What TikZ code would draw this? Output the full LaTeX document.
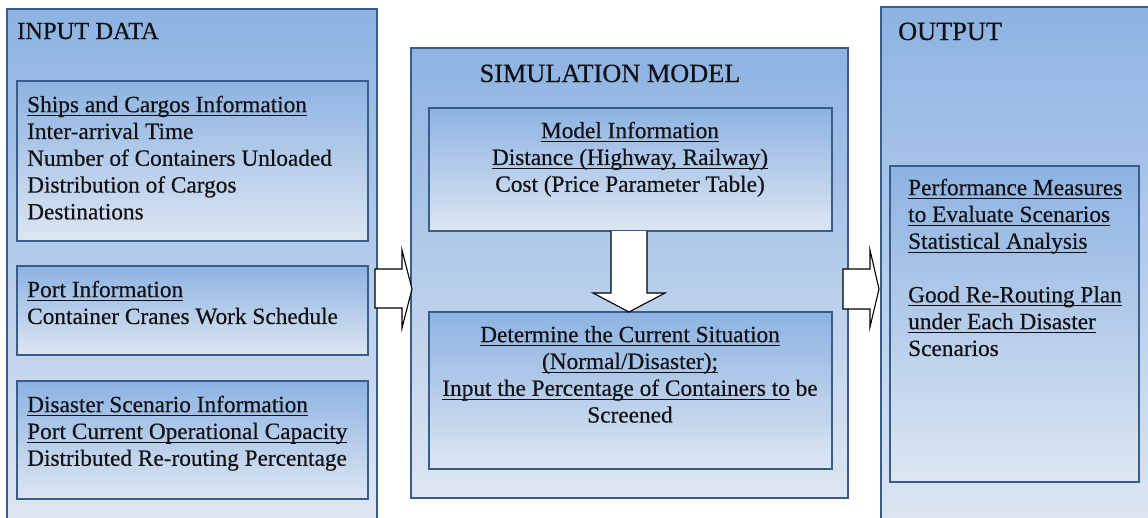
\documentclass[tikz,border=0pt]{standalone}
\usepackage{fontspec}
\setmainfont{Liberation Serif}[FakeBold=0.5]
\usetikzlibrary{calc}

\definecolor{edge}{RGB}{56,93,138}
\definecolor{shadetop}{RGB}{141,179,226}
\definecolor{shadebot}{RGB}{221,230,242}
\definecolor{ink}{RGB}{18,18,22}

% underline drawn at a fixed depth below the baseline
\newcommand\uln[1]{\setbox0=\hbox{#1}\rlap{\rule[-3.8pt]{\wd0}{1pt}}\copy0\relax}
\newcommand\bodysize{\fontsize{23.3}{26.8}\selectfont}
\newcommand\headsize{\fontsize{24.5}{28}\selectfont}
\newcommand\bigheadsize{\fontsize{26.3}{30}\selectfont}

\begin{document}
\begin{tikzpicture}[x=1pt,y=-1pt,
  panel/.style={draw=edge, line width=1.5pt, top color=shadetop, bottom color=shadebot,
    anchor=north west, inner sep=0pt, outer sep=0pt},
  heading/.style={font=\headsize, text=ink, inner sep=0pt, anchor=base west},
  bodyl/.style={font=\bodysize, text=ink, inner sep=0pt, align=left, anchor=north west},
  bodyc/.style={font=\bodysize, text=ink, inner sep=0pt, align=center, anchor=north},
  blockarrow/.style={draw=black, fill=white, line width=1.1pt, line join=miter}]

\useasboundingbox (0,0) rectangle (1148,517);
\fill[white] (0,0) rectangle (1148,517);
\clip (0,0) rectangle (1148,517);

% three columns
\node[panel, minimum width=370, minimum height=516] (inp) at (7,9) {};
\node[panel, minimum width=437, minimum height=450] (sim) at (411,48) {};
\node[panel, minimum width=300, minimum height=520] (out) at (881,7) {};

% inner panels
\node[panel, minimum width=351, minimum height=160] (ships) at (17,81) {};
\node[panel, minimum width=351, minimum height=89]  (port)  at (17,266) {};
\node[panel, minimum width=351, minimum height=118] (dis)   at (17,381) {};
\node[panel, minimum width=403, minimum height=123] (minfo) at (429,108) {};
\node[panel, minimum width=403, minimum height=157] (det)   at (429,312) {};
\node[panel, minimum width=249, minimum height=316] (perf)  at (890,166) {};

% headings
\node[heading] (inpT) at (17,39) {INPUT DATA};
\node[heading, font=\bigheadsize, anchor=base] (simT) at (610,82) {SIMULATION MODEL};
\node[heading, font=\bigheadsize] (outT) at (898,40) {OUTPUT};

% contents
\node[bodyl] (shipsT) at (27,93.2) {\strut\uln{Ships and Cargos Information}\\
  Inter-arrival Time\\ Number of Containers Unloaded\\ Distribution of Cargos\\ Destinations};
\node[bodyl] (portT) at (27,278.2) {\strut\uln{Port Information}\\ Container Cranes Work Schedule};
\node[bodyl] (disT) at (27,393.2) {\strut\uln{Disaster Scenario Information}\\
  \uln{Port Current Operational Capacity}\\ Distributed Re-routing Percentage};
\node[bodyc] (minfoT) at (630,119.2) {\strut\uln{Model Information}\\
  \uln{Distance (Highway, Railway)}\\ Cost (Price Parameter Table)};
\node[bodyc] (detT) at (630,323.2) {\strut\uln{Determine the Current Situation}\\
  \uln{(Normal/Disaster);}\\ \uln{Input the Percentage of Containers to} be\\ Screened};
\node[bodyl] (perfT) at (908,176.2) {\strut\uln{Performance Measures}\\
  \uln{to Evaluate Scenarios}\\ \uln{Statistical Analysis}\\[26.8pt]
  \uln{Good Re-Routing Plan}\\ \uln{under Each Disaster}\\ Scenarios};

% block arrows between the stages (tips as named points)
\coordinate (tipA) at (412,289);
\coordinate (tipB) at (879,289);
\coordinate (tipC) at (629,312);

\draw[blockarrow, shift={(tipA)}] (-37,-20) -- (-10,-20) -- (-10,-39) -- (0,0)
  -- (-10,39) -- (-10,19) -- (-37,19) -- cycle;
\draw[blockarrow, shift={(tipB)}] (-36,-20) -- (-9,-20) -- (-9,-39) -- (0,0)
  -- (-9,38) -- (-9,20) -- (-36,20) -- cycle;
\fill[white, shift={(tipC)}] (-18,-81) -- (-18,-19) -- (-36,-19) -- (0,0)
  -- (36,-19) -- (18,-19) -- (18,-81) -- cycle;
\draw[blockarrow, fill=none, shift={(tipC)}] (-18,-81) -- (-18,-19) -- (-36,-19) -- (0,0)
  -- (36,-19) -- (18,-19) -- (18,-81);
\end{tikzpicture}
\end{document}
